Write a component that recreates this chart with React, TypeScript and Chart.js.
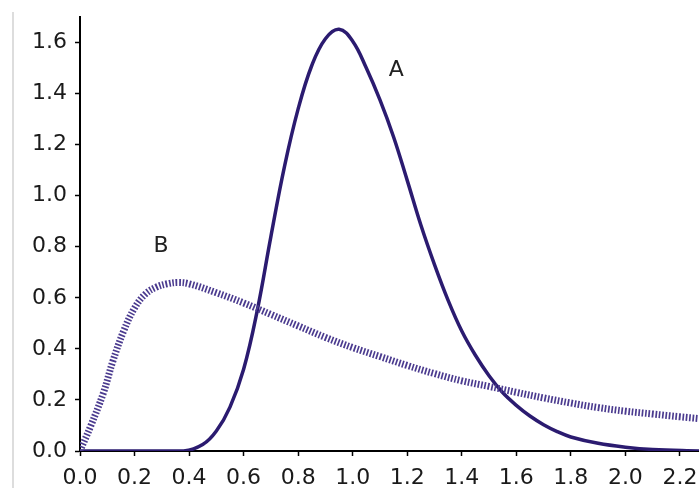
import React, { useEffect, useRef } from "react";
import { Chart, registerables } from "chart.js";

Chart.register(...registerables);

const xA = [0, 0.2, 0.38, 0.45, 0.5, 0.55, 0.6, 0.65, 0.7, 0.75, 0.8, 0.85, 0.9, 0.95, 1.0, 1.05, 1.1, 1.15, 1.2, 1.25, 1.3, 1.35, 1.4, 1.45, 1.5, 1.55, 1.6, 1.65, 1.7, 1.75, 1.8, 1.9, 2.0, 2.1, 2.27];
const yA = [0, 0, 0, 0.025, 0.078, 0.172, 0.32, 0.55, 0.84, 1.115, 1.34, 1.51, 1.615, 1.652, 1.605, 1.5, 1.375, 1.23, 1.06, 0.885, 0.73, 0.59, 0.47, 0.375, 0.295, 0.229, 0.179, 0.137, 0.103, 0.076, 0.055, 0.03, 0.015, 0.006, 0];

const xB = [0, 0.04, 0.085, 0.12, 0.16, 0.2, 0.24, 0.28, 0.32, 0.36, 0.4, 0.5, 0.6, 0.7, 0.8, 0.9, 1.0, 1.1, 1.2, 1.3, 1.4, 1.5, 1.6, 1.7, 1.8, 1.9, 2.0, 2.1, 2.2, 2.27];
const yB = [0, 0.1, 0.225, 0.35, 0.47, 0.56, 0.615, 0.642, 0.655, 0.66, 0.655, 0.62, 0.58, 0.535, 0.49, 0.445, 0.405, 0.37, 0.335, 0.303, 0.275, 0.253, 0.23, 0.208, 0.188, 0.17, 0.156, 0.145, 0.134, 0.127];

const curveLabels = ["A", "B"];
const labelX = [1.16, 0.297];
const labelY = [1.49, 0.8];

const FONT = "'DejaVu Sans', sans-serif";

const labelPlugin = {
  id: "curveLabels",
  afterDatasetsDraw(chart: any) {
    const { ctx, scales } = chart;
    ctx.save();
    ctx.font = `22px ${FONT}`;
    ctx.fillStyle = "#222222";
    ctx.textAlign = "center";
    ctx.textBaseline = "middle";
    curveLabels.forEach((t, i) => {
      ctx.fillText(t, scales.x.getPixelForValue(labelX[i]), scales.y.getPixelForValue(labelY[i]));
    });
    ctx.restore();
  },
};

const borderPlugin = {
  id: "frameLine",
  beforeDraw(chart: any) {
    const { ctx } = chart;
    ctx.save();
    ctx.strokeStyle = "#dddddd";
    ctx.lineWidth = 2;
    ctx.beginPath();
    ctx.moveTo(13, 12);
    ctx.lineTo(13, chart.height);
    ctx.stroke();
    ctx.restore();
  },
};

export default function App() {
  const ref = useRef<HTMLCanvasElement>(null);
  useEffect(() => {
    document.body.style.margin = "0";
    const chart = new Chart(ref.current!, {
      type: "line",
      data: {
        datasets: [
          {
            label: "B",
            data: xB.map((x, i) => ({ x, y: yB[i] })),
            borderColor: "#4b3b8f",
            borderWidth: 7,
            borderDash: [1.7, 1.7],
            pointRadius: 0,
            tension: 0.4,
            fill: false,
          },
          {
            label: "A",
            data: xA.map((x, i) => ({ x, y: yA[i] })),
            borderColor: "#2b1b70",
            borderWidth: 3.5,
            pointRadius: 0,
            tension: 0.4,
            fill: false,
          },
        ],
      },
      options: {
        animation: false,
        responsive: false,
        maintainAspectRatio: false,
        layout: { padding: { top: 17, left: 0, right: 0, bottom: 0 } },
        plugins: { legend: { display: false }, tooltip: { enabled: false } },
        scales: {
          x: {
            type: "linear",
            min: 0,
            max: 2.27,
            afterFit: (s: any) => { s.height = 37; s.paddingRight = 0; s.paddingLeft = 0; },
            border: { color: "#000", width: 2 },
            grid: { drawOnChartArea: false, drawTicks: true, tickLength: 5, tickColor: "#000", tickWidth: 1.5 },
            ticks: {
              stepSize: 0.2,
              includeBounds: false,
              padding: 9,
              color: "#1a1a1a",
              font: { family: FONT, size: 22 },
              maxRotation: 0,
              autoSkip: false,
              callback: (v: any) => Number(v).toFixed(1),
            },
          },
          y: {
            type: "linear",
            min: 0,
            max: 1.7,
            afterFit: (s: any) => { s.width = 80; s.paddingTop = 0; s.paddingBottom = 0; },
            border: { color: "#000", width: 2 },
            grid: { drawOnChartArea: false, drawTicks: true, tickLength: 5, tickColor: "#000", tickWidth: 1.5 },
            ticks: {
              stepSize: 0.2,
              includeBounds: false,
              padding: 8,
              color: "#1a1a1a",
              font: { family: FONT, size: 22 },
              autoSkip: false,
              callback: (v: any) => Number(v).toFixed(1),
            },
          },
        },
      },
      plugins: [labelPlugin, borderPlugin],
    });
    return () => chart.destroy();
  }, []);
  return <canvas ref={ref} width={699} height={488} style={{ display: "block" }} />;
}
